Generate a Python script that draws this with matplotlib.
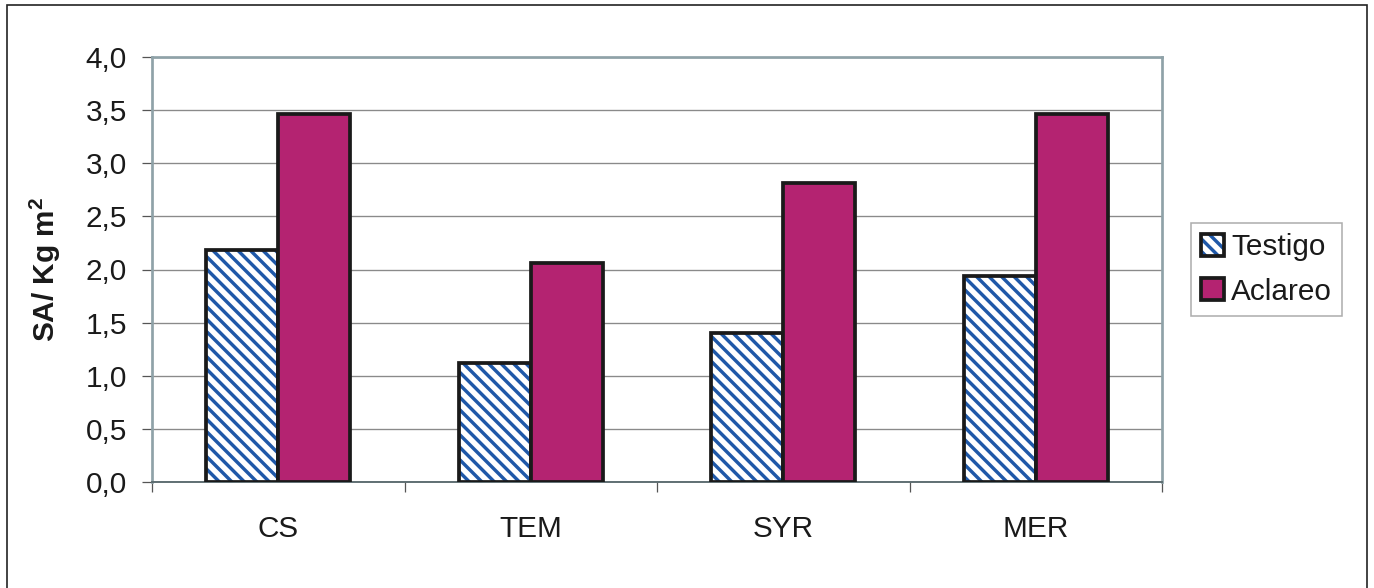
import matplotlib
matplotlib.use("Agg")
import matplotlib.pyplot as plt
from matplotlib.patches import Patch, Rectangle
from matplotlib.legend_handler import HandlerTuple
import numpy as np

categories = ["CS", "TEM", "SYR", "MER"]
testigo = [2.18, 1.12, 1.40, 1.94]
aclareo = [3.46, 2.06, 2.81, 3.46]
series_names = ["Testigo", "Aclareo"]
yticks = [0.0, 0.5, 1.0, 1.5, 2.0, 2.5, 3.0, 3.5, 4.0]

DPI = 75
plt.rcParams['font.family'] = ['Liberation Sans', 'DejaVu Sans']
plt.rcParams['hatch.linewidth'] = 3.3
plt.rcParams['mathtext.fontset'] = 'custom'
plt.rcParams['mathtext.rm'] = 'Liberation Sans'
plt.rcParams['mathtext.bf'] = 'Liberation Sans:bold'

BLUE = '#1f58a8'
MAGENTA = '#b42371'
FS = 28.5
HATCH = '\\\\'

fig = plt.figure(figsize=(1374 / DPI, 588 / DPI), dpi=DPI)
ax = fig.add_axes([152 / 1374, 1 - 482 / 588, (1162 - 152) / 1374, (482 - 57) / 588])

x = np.arange(len(categories))
w = 0.2857
edge_lw = 3.6

# Testigo: hatched fill, then black outline
ax.bar(x - w / 2, testigo, w, facecolor='white', edgecolor=BLUE, hatch=HATCH, linewidth=0, zorder=3)
ax.bar(x - w / 2, testigo, w, fill=False, edgecolor='#1a1a1a', linewidth=edge_lw, zorder=4)
ax.bar(x + w / 2, aclareo, w, facecolor=MAGENTA, edgecolor='#1a1a1a', linewidth=edge_lw, zorder=4)

ax.set_xlim(-0.5, len(categories) - 0.5)
ax.set_ylim(0, 4.0)
ax.set_yticks(yticks)
ax.set_yticklabels([f"{v:.1f}".replace('.', ',') for v in yticks], fontsize=FS, color='#1a1a1a')
ax.set_xticks(x)
ax.set_xticklabels(categories, fontsize=FS, color='#1a1a1a')
ax.set_xticks(np.arange(-0.5, len(categories)), minor=True)
ax.tick_params(axis='x', which='major', length=0, pad=32)
ax.tick_params(axis='x', which='minor', length=10, width=1.2, color='#555555', direction='out')
ax.tick_params(axis='y', which='major', length=10, width=1.2, color='#555555', direction='out', pad=14)

ax.yaxis.grid(True, color='#8a8a8a', linewidth=1.3, zorder=0)
ax.set_axisbelow(True)

for s in ['left', 'top', 'right']:
    ax.spines[s].set_color('#8fa2a8')
    ax.spines[s].set_linewidth(2.6)
ax.spines['bottom'].set_color('#5a6a6e')
ax.spines['bottom'].set_linewidth(1.8)

ax.set_ylabel(r"SA/ Kg m$^{\mathbf{2}}$", fontsize=FS, fontweight='bold', color='#1a1a1a')
ax.yaxis.set_label_coords(-0.088, 0.5)

h1 = (Patch(facecolor='white', edgecolor=BLUE, hatch=HATCH, linewidth=0),
      Patch(fill=False, edgecolor='#1a1a1a', linewidth=edge_lw))
h2 = Patch(facecolor=MAGENTA, edgecolor='#1a1a1a', linewidth=edge_lw)
leg = fig.legend([h1, h2], series_names, loc='upper left',
                 bbox_to_anchor=(1191 / 1374, 1 - 223 / 588),
                 fontsize=FS, frameon=True, fancybox=False, shadow=False,
                 handlelength=0.75, handleheight=0.75, handletextpad=0.25,
                 labelspacing=0.55, borderpad=0.35, borderaxespad=0,
                 handler_map={tuple: HandlerTuple(ndivide=1, pad=0)})
leg.get_frame().set_edgecolor('#999999')
leg.get_frame().set_linewidth(1.5)
for t in leg.get_texts():
    t.set_color('#1a1a1a')

# outer border
fig.patches.append(Rectangle((7 / 1374, -0.1), (1367 - 7) / 1374, 1.1 - 5 / 588,
                             transform=fig.transFigure, fill=False,
                             edgecolor='#222222', linewidth=1.6))

fig.savefig("out.png", dpi=DPI)
